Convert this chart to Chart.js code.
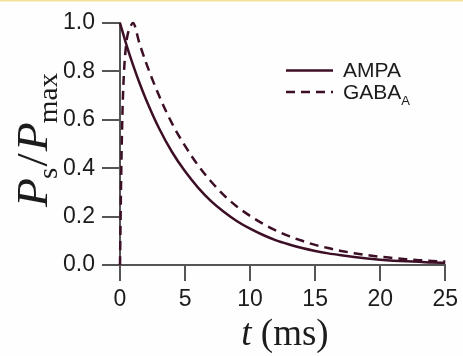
<!DOCTYPE html>
<html>
<head>
<meta charset="utf-8">
<script src="https://cdn.jsdelivr.net/npm/chart.js@4"></script>
<style>
  html, body { margin: 0; padding: 0; background: #fefefe; }
  #wrap { width: 463px; height: 356px; position: relative; }
</style>
</head>
<body>
<div id="wrap"><canvas id="chart" width="463" height="356"></canvas></div>
<script>
// normalised conductance vs time (ms)
const ampaT = [0, 0.5, 1, 1.5, 2, 3, 4, 5, 6, 7, 8, 9, 10, 11, 12, 13, 14, 15, 16, 17, 18, 19, 20, 21, 22, 23, 24, 25];
const ampaP = [1.0, 0.909, 0.827, 0.752, 0.684, 0.565, 0.467, 0.387, 0.320, 0.264, 0.219, 0.181, 0.150, 0.124, 0.102, 0.085, 0.070, 0.058, 0.048, 0.040, 0.033, 0.027, 0.022, 0.018, 0.015, 0.013, 0.010, 0.009];

const gabaT = [0, 0.1, 0.2, 0.3, 0.4, 0.5, 0.6, 0.8, 1.0, 1.5, 2, 3, 4, 5, 6, 7, 8, 9, 10, 11, 12, 13, 14, 15, 16, 17, 18, 19, 20, 21, 22, 23, 24, 25];
const gabaP = [0, 0.40, 0.65, 0.79, 0.87, 0.925, 0.955, 0.985, 1.0, 0.915, 0.836, 0.700, 0.585, 0.492, 0.412, 0.345, 0.288, 0.241, 0.203, 0.170, 0.142, 0.119, 0.100, 0.083, 0.070, 0.058, 0.049, 0.041, 0.034, 0.029, 0.024, 0.020, 0.017, 0.014];

const xTicks = [0, 5, 10, 15, 20, 25];
const yTicks = [0, 0.2, 0.4, 0.6, 0.8, 1.0];

const LINE = "#3d0f26";
const AXIS = "#555555";
const TEXT = "#1c1c1c";

const toPts = (xs, ys) => xs.map((x, i) => ({ x: x, y: ys[i] }));

// white page + thin yellow strip on top
const bgPlugin = {
  id: "bg",
  beforeDraw(chart) {
    const c = chart.ctx;
    c.save();
    c.fillStyle = "#fefefe";
    c.fillRect(0, 0, chart.width, chart.height);
    c.fillStyle = "#f5e29a";
    c.fillRect(0, 0, chart.width, 1.5);
    c.restore();
  },
};

// axis titles with sub-scripts and a hand-placed legend
const labelPlugin = {
  id: "labels",
  afterDraw(chart) {
    const c = chart.ctx;
    c.save();
    c.fillStyle = TEXT;
    c.textBaseline = "alphabetic";
    c.textAlign = "left";

    // y title: P_s / P_max, rotated, fitted to the span seen in the picture
    const big = "italic 44px 'Liberation Serif', 'Times New Roman', serif";
    const rom = "44px 'Liberation Serif', 'Times New Roman', serif";
    const sub = "27px 'Liberation Serif', 'Times New Roman', serif";
    const parts = [
      { s: "P", f: big, dy: 0, gap: -1 },
      { s: "s", f: sub, dy: 10, gap: 1 },
      { s: "/", f: rom, dy: 0, gap: 2 },
      { s: "P", f: big, dy: 0, gap: -1 },
      { s: "max", f: sub, dy: 10, gap: 0 },
    ];
    let total = 0;
    parts.forEach((p) => {
      c.font = p.f;
      p.w = c.measureText(p.s).width;
      total += p.w + p.gap;
    });
    const span = 134;
    c.translate(47, 140 + span / 2);
    c.rotate(-Math.PI / 2);
    c.scale(span / total, 1);
    let x = 0;
    parts.forEach((p) => {
      c.font = p.f;
      c.fillText(p.s, x, p.dy);
      x += p.w + p.gap;
    });
    c.setTransform(1, 0, 0, 1, 0, 0);

    // x title: t (ms)
    const tFont = "italic 37px 'Liberation Serif', 'Times New Roman', serif";
    const msFont = "37px 'Liberation Serif', 'Times New Roman', serif";
    c.font = tFont;
    const wt = c.measureText("t").width;
    c.font = msFont;
    const wm = c.measureText(" (ms)").width;
    const x0 = 285 - (wt + wm) / 2;
    c.font = tFont;
    c.fillText("t", x0, 345);
    c.font = msFont;
    c.fillText(" (ms)", x0 + wt, 345);

    // legend
    const ds = chart.data.datasets;
    const rows = [
      { y: 70.5, d: ds[0], name: "AMPA", sub: "" },
      { y: 92, d: ds[1], name: "GABA", sub: "A" },
    ];
    rows.forEach((r) => {
      c.strokeStyle = r.d.borderColor;
      c.lineWidth = r.d.borderWidth;
      c.setLineDash(r.d.borderDash || []);
      c.beginPath();
      c.moveTo(286, r.y);
      c.lineTo(333, r.y);
      c.stroke();
      c.setLineDash([]);
      c.font = "21px 'Liberation Sans', Arial, sans-serif";
      c.textBaseline = "middle";
      c.fillText(r.name, 343, r.y + 1);
      if (r.sub) {
        const w = c.measureText(r.name).width;
        c.font = "13px 'Liberation Sans', Arial, sans-serif";
        c.fillText(r.sub, 343 + w, r.y + 9);
      }
    });
    c.restore();
  },
};

const axisCommon = {
  grid: {
    drawOnChartArea: false,
    drawTicks: true,
    color: AXIS,
    lineWidth: 2,
  },
  border: { display: true, color: AXIS, width: 2 },
};

new Chart(document.getElementById("chart"), {
  type: "line",
  data: {
    datasets: [
      {
        label: "AMPA",
        data: toPts(ampaT, ampaP),
        borderColor: LINE,
        borderWidth: 2.5,
        pointRadius: 0,
        cubicInterpolationMode: "monotone",
        clip: false,
      },
      {
        label: "GABA_A",
        data: toPts(gabaT, gabaP),
        borderColor: LINE,
        borderWidth: 2.5,
        borderDash: [9, 6],
        pointRadius: 0,
        cubicInterpolationMode: "monotone",
        clip: false,
      },
    ],
  },
  options: {
    responsive: false,
    animation: false,
    layout: { padding: { top: 23, right: 17, left: 0, bottom: 0 } },
    plugins: { legend: { display: false }, tooltip: { enabled: false } },
    scales: {
      x: {
        type: "linear",
        min: 0,
        max: 25,
        afterBuildTicks: (s) => { s.ticks = xTicks.map((v) => ({ value: v })); },
        afterFit: (s) => { s.height = 91; },
        ticks: {
          color: TEXT,
          font: { family: "'Liberation Sans', Arial, sans-serif", size: 23 },
          padding: 5,
          maxRotation: 0,
        },
        ...axisCommon,
        grid: { ...axisCommon.grid, tickLength: 16 },
      },
      y: {
        type: "linear",
        min: 0,
        max: 1,
        afterBuildTicks: (s) => { s.ticks = yTicks.map((v) => ({ value: v })); },
        afterFit: (s) => { s.width = 120; },
        ticks: {
          color: TEXT,
          font: { family: "'Liberation Sans', Arial, sans-serif", size: 23 },
          padding: 7,
          callback: (v) => Number(v).toFixed(1),
        },
        ...axisCommon,
        grid: { ...axisCommon.grid, tickLength: 18 },
      },
    },
  },
  plugins: [bgPlugin, labelPlugin],
});
</script>
</body>
</html>
